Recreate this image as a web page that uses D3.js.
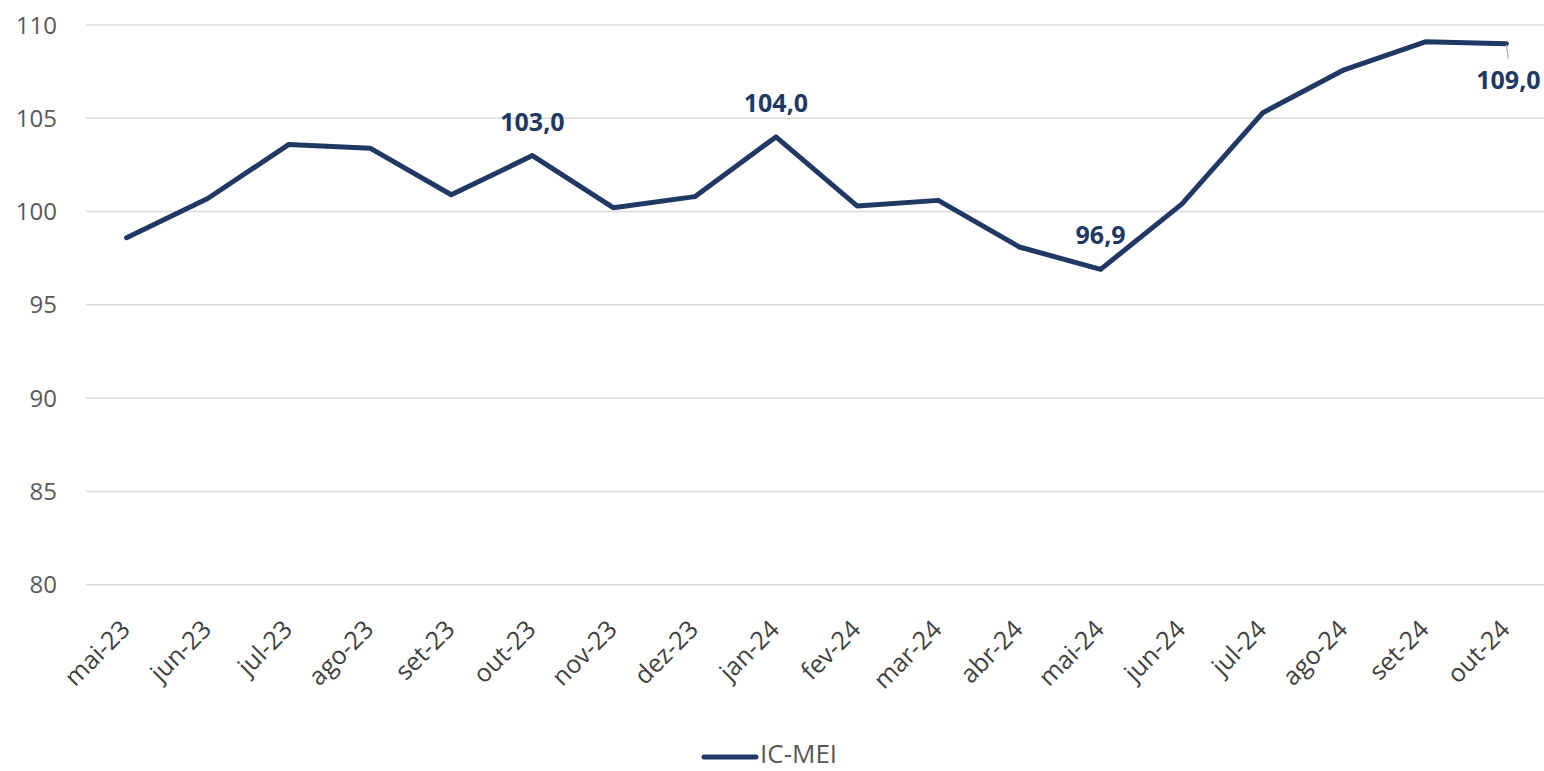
<!DOCTYPE html>
<html>
<head>
<meta charset="utf-8">
<script src="https://cdn.jsdelivr.net/npm/d3@7"></script>
<style>
  body { margin: 0; background: #fff; }
  svg { display: block; font-family: "Open Sans", sans-serif; }
</style>
</head>
<body>
<script>
const months = ['mai-23', 'jun-23', 'jul-23', 'ago-23', 'set-23', 'out-23', 'nov-23', 'dez-23', 'jan-24',
    'fev-24', 'mar-24', 'abr-24', 'mai-24', 'jun-24', 'jul-24', 'ago-24', 'set-24', 'out-24'];
const icMei = [98.6, 100.7, 103.6, 103.4, 100.9, 103.0, 100.2, 100.8, 104.0,
    100.3, 100.6, 98.1, 96.9, 100.4, 105.3, 107.6, 109.1, 109.0];
const yTicks = [80, 85, 90, 95, 100, 105, 110];
const labelled = ['out-23', 'jan-24', 'mai-24', 'out-24'];
const seriesName = 'IC-MEI';

const width = 1544;
const height = 771;
const lineColor = '#203864';

const svg = d3.select('body').append('svg')
    .attr('width', width)
    .attr('height', height);

const x = d3.scaleBand()
    .domain(months)
    .range([86, 1547]);

const y = d3.scaleLinear()
    .domain([80, 110])
    .range([584.7, 25]);

const cx = m => x(m) + x.bandwidth() / 2;

// gridlines
svg.append('g')
    .selectAll('line')
    .data(yTicks)
    .join('line')
    .attr('x1', 86)
    .attr('x2', width)
    .attr('y1', d => y(d))
    .attr('y2', d => y(d))
    .attr('stroke', '#d9d9d9')
    .attr('stroke-width', 1.5);

// y axis labels
svg.append('g')
    .selectAll('text')
    .data(yTicks)
    .join('text')
    .attr('x', 57)
    .attr('y', d => y(d))
    .attr('dy', '0.36em')
    .attr('text-anchor', 'end')
    .attr('fill', '#595959')
    .style('font-size', '24px')
    .text(d => d);

// x axis labels
svg.append('g')
    .selectAll('text')
    .data(months)
    .join('text')
    .attr('text-anchor', 'end')
    .attr('transform', d => `translate(${cx(d) + 5}, 631) rotate(-45)`)
    .attr('fill', '#404040')
    .style('font-size', '25px')
    .text(d => d);

const data = months.map((m, i) => ({ month: m, value: icMei[i] }));

const line = d3.line()
    .x(d => cx(d.month))
    .y(d => y(d.value));

svg.append('path')
    .datum(data)
    .attr('d', line)
    .attr('fill', 'none')
    .attr('stroke', lineColor)
    .attr('stroke-width', 5)
    .attr('stroke-linejoin', 'round')
    .attr('stroke-linecap', 'round');

// data labels
const fmt = v => v.toFixed(1).replace('.', ',');
const labelData = data.filter(d => labelled.includes(d.month));

labelData.forEach(d => {
    const last = d.month === months[months.length - 1];
    if (last) {
        svg.append('line')
            .attr('x1', cx(d.month))
            .attr('y1', y(d.value) + 1)
            .attr('x2', cx(d.month) + 2)
            .attr('y2', y(d.value) + 15)
            .attr('stroke', '#a6a6a6')
            .attr('stroke-width', 1.2);
    }
    svg.append('text')
        .attr('x', cx(d.month) + (last ? 2 : 0))
        .attr('y', y(d.value) + (last ? 45 : -25))
        .attr('text-anchor', 'middle')
        .attr('fill', lineColor)
        .style('font-size', '25px')
        .style('font-weight', 'bold')
        .text(fmt(d.value));
});

// legend
const legend = svg.append('g');
legend.append('line')
    .attr('x1', 704)
    .attr('x2', 756)
    .attr('y1', 757)
    .attr('y2', 757)
    .attr('stroke', lineColor)
    .attr('stroke-width', 5)
    .attr('stroke-linecap', 'round');
legend.append('text')
    .attr('x', 760)
    .attr('y', 763)
    .attr('fill', '#595959')
    .style('font-size', '26px')
    .text(seriesName);
</script>
</body>
</html>
